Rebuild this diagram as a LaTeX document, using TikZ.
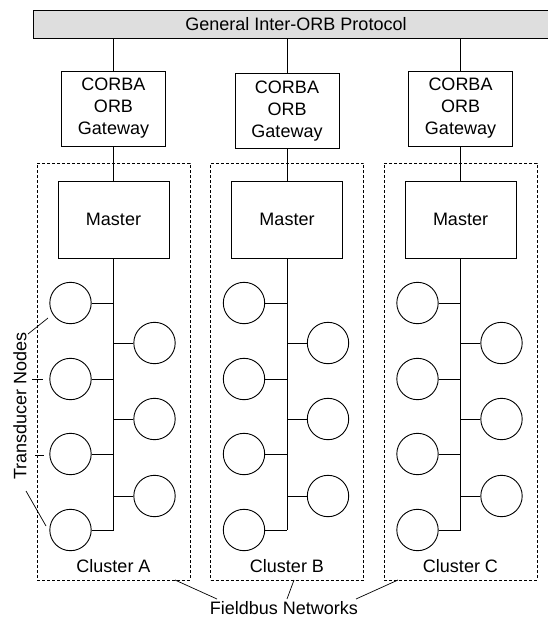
\documentclass[tikz,border=0pt]{standalone}
\usepackage{fontspec}
\setmainfont{Liberation Sans}
\usetikzlibrary{positioning}

\definecolor{bargray}{HTML}{DEDEDE}

\tikzset{
    gateway/.style = {draw, line width=0.9pt, minimum width=104pt, minimum height=75pt,
                      inner sep=0pt, align=center},
    master/.style  = {draw, line width=0.9pt, minimum width=111pt, minimum height=77pt},
    tnode/.style   = {draw, circle, line width=0.9pt, minimum size=41.4pt, inner sep=0pt},
    cluster/.style = {draw, line width=0.7pt, dash pattern=on 3pt off 2pt,
                      minimum width=153pt, minimum height=417pt, inner sep=0pt},
    link/.style    = {line width=0.9pt}
}

\begin{document}
\begin{tikzpicture}[x=1pt, y=-1pt, font=\fontsize{18}{22}\selectfont]
    \useasboundingbox (0,0) rectangle (547,618);

    \node (giop) [draw, fill=bargray, line width=0.9pt, minimum width=526pt,
                  minimum height=28pt, inner sep=0pt] at (296,24) {General Inter-ORB Protocol};

    % one cluster per fieldbus
    \foreach \c/\x/\g in {A/113.5/108.5, B/287/111, C/460.5/108.5} {
        \node (gw\c) [gateway] at (\x,\g) {CORBA\\ORB\\Gateway};
        \node (ms\c) [master] at (\x,219.5) {Master};
        \node (cl\c) [cluster] at (\x,371.5) {};
        \node (lb\c) at (\x,566) {Cluster \c};
        \foreach \i/\y in {1/303, 2/379, 3/454, 4/530}
            \node (t\c\i) [tnode] at (\x-43,\y) {};
        \foreach \i/\y in {5/343, 6/419, 7/496}
            \node (t\c\i) [tnode] at (\x+41,\y) {};
        \coordinate (bus\c) at (\x,530);

        \draw [link] (gw\c.north) -- (gw\c.north |- giop.south);
        \draw [link] (gw\c.south) -- (ms\c.north);
        \draw [link] (ms\c.south) -- (bus\c);
        \foreach \i in {1,...,7}
            \draw [link] (t\c\i) -- (t\c\i -| bus\c);
    }

    % labels with pointers
    \node (tn) [rotate=90] at (20,406) {Transducer Nodes};
    \node (fb) at (284,608) {Fieldbus Networks};

    \coordinate (p1) at (28,334);  \coordinate (q1) at (48,318);
    \coordinate (p2) at (32,379);  \coordinate (q2) at (43,379);
    \coordinate (p3) at (35,455);  \coordinate (q3) at (44,455);
    \coordinate (p4) at (26,491);  \coordinate (q4) at (46,526);
    \foreach \i in {1,...,4}
        \draw [line width=0.7pt] (p\i) -- (q\i);

    \coordinate (fA) at (175,580); \coordinate (gA) at (217,599);
    \coordinate (fB) at (294,580); \coordinate (gB) at (287,599);
    \coordinate (fC) at (398,580); \coordinate (gC) at (356,599);
    \foreach \c in {A,B,C}
        \draw [line width=0.7pt] (f\c) -- (g\c);
\end{tikzpicture}
\end{document}
